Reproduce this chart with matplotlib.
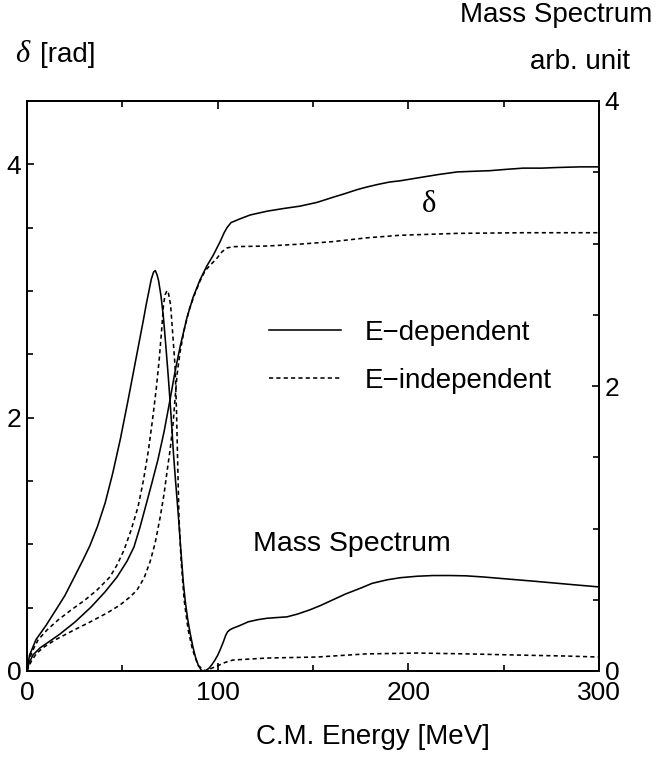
import numpy as np
import matplotlib
matplotlib.use("Agg")
import matplotlib.pyplot as plt
from matplotlib.ticker import MultipleLocator, FixedLocator

plt.rcParams.update({
    "font.family": ["Liberation Sans", "DejaVu Sans"],
    "font.size": 20,
    "axes.linewidth": 1.3,
})

# phase shift delta [rad], energy-dependent potential
delta_dep_e = [0, 1.05, 3.1, 6.8, 12.1, 17.3, 25.2, 33.6, 40.9, 47.2, 52.5, 56.1, 59.3,
               62.4, 65.6, 68.7, 71.9, 75.0, 77.6, 80.3, 83.9, 87.1, 90.8, 94.4, 97.6,
               101.3, 103.4, 104.9, 107.0, 111.8, 117, 125.9, 134, 143.2, 152.2, 160.5,
               167, 173.1, 178, 183.6, 190, 195.7, 207.8, 216, 225.6, 234, 242.9, 251,
               260.2, 270, 278.1, 290, 300]
delta_dep = [0, 0.063, 0.126, 0.182, 0.237, 0.292, 0.387, 0.505, 0.624, 0.742, 0.868,
             0.979, 1.137, 1.31, 1.49, 1.67, 1.89, 2.14, 2.36, 2.56, 2.79, 2.95, 3.09,
             3.20, 3.28, 3.39, 3.46, 3.50, 3.54, 3.57, 3.60, 3.63, 3.65, 3.67, 3.70,
             3.74, 3.77, 3.80, 3.82, 3.84, 3.86, 3.87, 3.90, 3.92, 3.94, 3.945, 3.95,
             3.96, 3.97, 3.97, 3.975, 3.98, 3.98]

# phase shift delta [rad], energy-independent potential
delta_ind_e = [0, 1.05, 2.6, 5.2, 8.9, 14.7, 24.7, 33.1, 42.0, 48.8, 54.0, 57.7, 61.4,
               64.5, 67.2, 69.8, 71.9, 73.5, 75.0, 76.6, 77.6, 78.7, 80.3, 82.4, 85.0,
               88.1, 90.8, 93.4, 96.5, 99.7, 102.3, 104.9, 108.1, 125.9, 143.2, 160.5,
               178.4, 195.7, 225.6, 260.2, 300]
delta_ind = [0, 0.039, 0.087, 0.142, 0.189, 0.245, 0.324, 0.387, 0.458, 0.521, 0.584,
             0.639, 0.734, 0.86, 1.01, 1.21, 1.40, 1.58, 1.74, 1.95, 2.14, 2.34, 2.52,
             2.69, 2.85, 2.98, 3.08, 3.16, 3.21, 3.26, 3.31, 3.34, 3.35, 3.355, 3.37,
             3.39, 3.42, 3.44, 3.455, 3.46, 3.46]

# mass spectrum [arb. unit], energy-dependent potential
ms_dep_e = [0, 1.3, 4.7, 10.0, 15.2, 19.9, 24.1, 29.4, 33.0, 37.0, 41.0, 45.0, 49.0,
            53.0, 57.0, 61.0, 62.5, 64.0, 65.2, 66.4, 67.3, 68.2, 69.0,
            70.3, 71.5, 72.7, 73.9, 75.0, 76.0, 76.8, 77.7, 78.6, 79.5, 80.4, 81.2,
            82.0, 83.0, 84.2, 85.5, 87.0, 88.5, 90.0, 91.5, 92.5, 94.0, 95.5, 97.0,
            98.5, 100.0, 101.5, 103.0, 104.2, 105.2, 106.5, 108.0, 111.8, 116, 121,
            125.9, 131, 136.4, 142, 148.5, 154, 160.5, 167, 174.7, 181, 188.9, 196,
            204.6, 213, 221.9, 230, 239.2, 248, 257, 266, 274.4, 287, 300]
ms_dep = [0, 0.11, 0.22, 0.32, 0.43, 0.53, 0.64, 0.78, 0.88, 1.016, 1.18, 1.39, 1.63,
          1.90, 2.18, 2.46, 2.57, 2.67, 2.75, 2.80, 2.81, 2.78, 2.74,
          2.63, 2.49, 2.30, 2.10, 1.90, 1.70, 1.53, 1.37, 1.22, 1.07, 0.90, 0.76,
          0.62, 0.49, 0.37, 0.27, 0.17, 0.09, 0.035, 0.005, 0, 0.005, 0.02, 0.045,
          0.075, 0.11, 0.155, 0.205, 0.25, 0.275, 0.29, 0.30, 0.32, 0.345, 0.36,
          0.37, 0.375, 0.38, 0.40, 0.43, 0.46, 0.50, 0.54, 0.58, 0.615, 0.64, 0.655,
          0.665, 0.67, 0.67, 0.668, 0.66, 0.65, 0.64, 0.63, 0.62, 0.605, 0.59]

# mass spectrum [arb. unit], energy-independent potential
ms_ind_e = [0, 1.0, 3.1, 5.8, 10.5, 16.3, 23.1, 30.4, 36.7, 43.5, 47.2, 50.9, 54.6,
            58.2, 61.1, 63.7, 65.8, 67.7, 69.3, 70.6, 71.6, 72.4, 73.5, 74.2, 75.3,
            76.3, 77.7, 78.4, 79.0, 79.7, 80.8, 82.4, 84.5, 86.8, 89.7, 93.4, 97,
            99.7, 103.9, 108, 126, 152, 178, 205, 231, 257, 283, 300]
ms_ind = [0, 0.077, 0.147, 0.218, 0.288, 0.358, 0.428, 0.498, 0.568, 0.660, 0.744,
          0.849, 0.989, 1.15, 1.34, 1.55, 1.76, 1.97, 2.18, 2.39, 2.57, 2.64, 2.67,
          2.65, 2.57, 2.39, 2.13, 1.83, 1.48, 1.08, 0.78, 0.50, 0.29, 0.15, 0.04, 0,
          0.02, 0.035, 0.06, 0.077, 0.091, 0.098, 0.12, 0.126, 0.12, 0.112, 0.105,
          0.098]

W, H = 659, 761
fig = plt.figure(figsize=(W / 100, H / 100), dpi=100)
ax = fig.add_axes([27 / W, 1 - 671 / H, 572 / W, 570 / H])
ax2 = ax.twinx()

lw = 1.15
dash = (0, (2.6, 2.0))
ax.plot(delta_dep_e, delta_dep, color="black", lw=lw, label="E\u2212dependent")
ax.plot(delta_ind_e, delta_ind, color="black", lw=lw, ls=dash, label="E\u2212independent")
ax2.plot(ms_dep_e, ms_dep, color="black", lw=lw)
ax2.plot(ms_ind_e, ms_ind, color="black", lw=lw, ls=dash)

ax.set_xlim(0, 300)
ax.set_ylim(0, 4.5)
ax2.set_ylim(0, 4)

ax.xaxis.set_major_locator(FixedLocator([0, 100, 200, 300]))
ax.xaxis.set_minor_locator(MultipleLocator(50))
ax.yaxis.set_major_locator(FixedLocator([0, 2, 4]))
ax.yaxis.set_minor_locator(MultipleLocator(0.5))
ax2.yaxis.set_major_locator(FixedLocator([0, 2, 4]))
ax2.yaxis.set_minor_locator(MultipleLocator(0.5))

ax.tick_params(axis="both", which="both", direction="in", width=1.2)
ax.tick_params(axis="x", which="both", top=True, labeltop=False)
ax.tick_params(axis="x", which="major", length=6, pad=7, labelsize=19)
ax.tick_params(axis="x", which="minor", length=4)
ax.tick_params(axis="y", which="major", length=5, pad=4, labelsize=19)
ax.tick_params(axis="y", which="minor", length=4)
ax2.tick_params(axis="y", which="both", direction="in", width=1.2)
ax2.tick_params(axis="y", which="major", length=5, pad=4, labelsize=19)
ax2.tick_params(axis="y", which="minor", length=4)

ax.set_xlabel("C.M. Energy [MeV]", fontsize=20, labelpad=14)
ax.xaxis.label.set_x(0.605)

leg = ax.legend(loc="upper left", bbox_to_anchor=(0.423, 0.616), frameon=False,
                handlelength=2.6, handletextpad=0.85, labelspacing=0.79,
                borderpad=0, borderaxespad=0, fontsize=20)

ax.text(211, 3.68, "\u03b4", fontsize=22, family=["Liberation Serif", "DejaVu Serif"],
        ha="center", va="center")
ax.text(170.5, 1.0, "Mass Spectrum", fontsize=20.5, ha="center", va="center")

fig.text(15 / W, 1 - 55 / H, "\u03b4", fontsize=22, style="italic",
         family=["Liberation Serif", "DejaVu Serif"], ha="left", va="center")
fig.text(40 / W, 1 - 55 / H, "[rad]", fontsize=20, ha="left", va="center")
fig.text(652 / W, 1 - 15 / H, "Mass Spectrum", fontsize=20, ha="right", va="center")
fig.text(630 / W, 1 - 62 / H, "arb. unit", fontsize=20, ha="right", va="center")

fig.savefig("out.png", dpi=100)
